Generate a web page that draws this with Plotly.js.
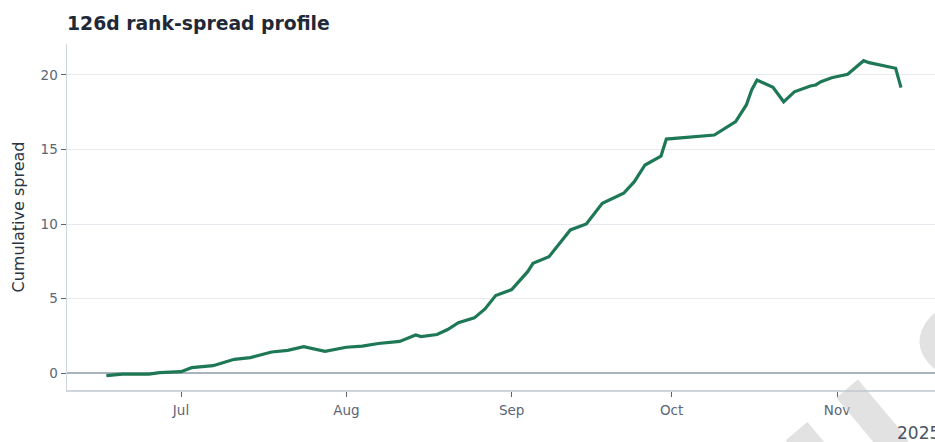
<!DOCTYPE html>
<html>
<head>
<meta charset="utf-8">
<script src="https://cdn.plot.ly/plotly-3.0.1.min.js"></script>
<style>
html,body{margin:0;padding:0;background:#fff;}
#chart{width:935px;height:442px;}
#chart .annotation[data-index="0"] text{letter-spacing:40px;}
</style>
</head>
<body>
<div id="chart"></div>
<script>
const dates = [
  "2025-06-17","2025-06-20","2025-06-25","2025-06-27","2025-07-01","2025-07-03",
  "2025-07-07","2025-07-11","2025-07-14","2025-07-18","2025-07-21","2025-07-24",
  "2025-07-28","2025-07-30","2025-08-01","2025-08-04","2025-08-07","2025-08-11",
  "2025-08-14","2025-08-15","2025-08-18","2025-08-20","2025-08-22","2025-08-25",
  "2025-08-27","2025-08-29","2025-09-01","2025-09-04","2025-09-05","2025-09-08",
  "2025-09-12","2025-09-15","2025-09-18","2025-09-22","2025-09-24","2025-09-26",
  "2025-09-29","2025-09-30","2025-10-09","2025-10-13","2025-10-15","2025-10-16",
  "2025-10-17","2025-10-20","2025-10-22","2025-10-24","2025-10-27","2025-10-28",
  "2025-10-29","2025-10-31","2025-11-03","2025-11-06","2025-11-07","2025-11-12",
  "2025-11-13"
];
const spread = [
  -0.18,-0.07,-0.07,0.02,0.09,0.36,
  0.49,0.92,1.03,1.41,1.52,1.77,
  1.45,1.60,1.73,1.80,1.98,2.12,
  2.55,2.44,2.58,2.92,3.38,3.70,
  4.30,5.20,5.60,6.80,7.36,7.81,
  9.60,10.00,11.39,12.06,12.84,13.96,
  14.56,15.70,15.97,16.87,17.99,19.00,
  19.66,19.17,18.20,18.87,19.26,19.33,
  19.55,19.82,20.05,20.96,20.83,20.45,
  19.15
];
const yTicks = [0,5,10,15,20];
const xTickVals = ["2025-07-01","2025-08-01","2025-09-01","2025-10-01","2025-11-01"];
const xTickText = ["Jul","Aug","Sep","Oct","Nov"];
const titleText = "126d rank-spread profile";
const yTitle = "Cumulative spread";
const yearLabel = "2025";
const watermarkText = "ILLUSTRATIVE";

const FONT = "DejaVu Sans, sans-serif";

const trace = {
  x: dates, y: spread, type: "scatter", mode: "lines",
  line: {color: "#1e7856", width: 3.2},
  hoverinfo: "skip", showlegend: false
};

const L = 67, T = 44, W = 868, H = 346;
const px = v => (v - L) / W;
const py = v => (T + H - v) / H;

const layout = {
  width: 935, height: 442,
  margin: {l: 67, r: 0, t: 44, b: 52},
  paper_bgcolor: "#ffffff", plot_bgcolor: "#ffffff",
  font: {family: FONT, color: "#5b6675"},
  title: {
    text: "<b>" + titleText + "</b>",
    font: {family: FONT, size: 18.8, color: "#1f2937"},
    x: 67/935, xanchor: "left", xref: "container",
    y: 1 - 23/442, yanchor: "middle", yref: "container"
  },
  xaxis: {
    type: "date",
    range: ["2025-06-09 15:00", "2025-11-19 09:00"],
    tickvals: xTickVals, ticktext: xTickText,
    tickfont: {family: FONT, size: 13.5, color: "#5b6675"},
    ticklabelstandoff: 2,
    showgrid: false, zeroline: false,
    showline: true, linecolor: "#cfd6dd", linewidth: 1.5,
    ticks: "outside", ticklen: 5, tickcolor: "#5b6675", tickwidth: 1,
    fixedrange: true
  },
  yaxis: {
    range: [-1.14, 22.08],
    tickvals: yTicks,
    tickfont: {family: FONT, size: 13.5, color: "#5b6675"},
    title: {text: yTitle, font: {family: FONT, size: 16, color: "#2b3440"}, standoff: 12},
    showgrid: true, gridcolor: "#e6eaef", gridwidth: 1,
    zeroline: true, zerolinecolor: "#a9b3bc", zerolinewidth: 1.6,
    showline: true, linecolor: "#cfd6dd", linewidth: 1.5,
    ticks: "outside", ticklen: 5, tickcolor: "#5b6675", tickwidth: 1,
    fixedrange: true
  },
  annotations: [
    {
      text: "<b>" + watermarkText + "</b>", xref: "paper", yref: "paper",
      x: px(1167), y: py(195), xanchor: "center", yanchor: "middle",
      textangle: -40, showarrow: false, opacity: 0.5,
      font: {family: FONT, size: 150, color: "#c6c6c6"}
    },
    {
      text: yearLabel, xref: "paper", yref: "paper",
      x: px(895), y: py(433), xanchor: "left", yanchor: "middle",
      showarrow: false, font: {family: FONT, size: 17, color: "#4a5563"}
    }
  ]
};

Plotly.newPlot("chart", [trace], layout, {displayModeBar: false, staticPlot: true});
</script>
</body>
</html>
